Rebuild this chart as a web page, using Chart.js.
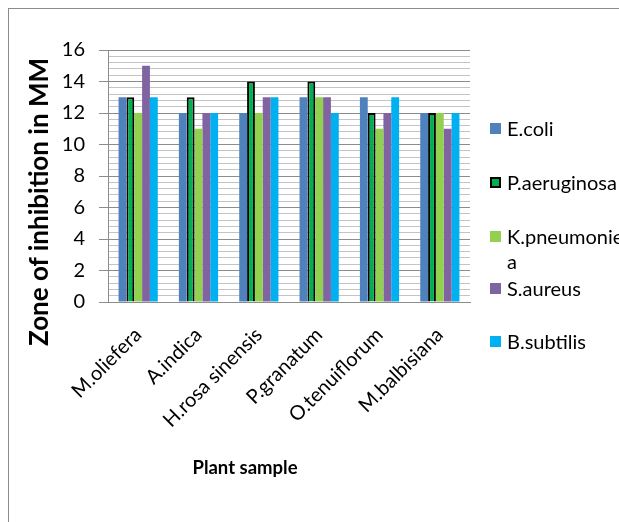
<!DOCTYPE html>
<html>
<head>
<meta charset="utf-8">
<script src="https://cdn.jsdelivr.net/npm/chart.js@4/dist/chart.umd.min.js"></script>
<style>
  body { margin: 0; background: #fff; font-family: Lato, "Open Sans", sans-serif; }
  #wrap { position: relative; width: 619px; height: 522px; overflow: hidden; }
  #frame { position: absolute; left: 8px; top: 8px; width: 700px; height: 600px; border: 1px solid #8c8c8c; }
  #chart { position: absolute; left: 0; top: 0; }
  .ytitle { position: absolute; left: 38px; top: 202px; transform: translate(-50%, -50%) rotate(-90deg);
            font-weight: bold; font-size: 26px; white-space: nowrap; color: #000; }
  .xtitle { position: absolute; left: 245px; top: 467px; transform: translate(-50%, -50%);
            font-weight: bold; font-size: 18.5px; white-space: nowrap; color: #000; }
  #legend { position: absolute; left: 490px; top: 0; }
  .item { position: absolute; left: 0; width: 140px; font-size: 20px; color: #000; line-height: 25px; }
  .item .box { position: absolute; left: 0; top: 7px; width: 11px; height: 11px; box-sizing: border-box; }
  .item .txt { position: absolute; left: 17px; top: 0; width: 121px; word-break: break-all; }
</style>
</head>
<body>
<div id="wrap">
  <div id="frame"></div>
  <canvas id="chart" width="619" height="522"></canvas>
  <div class="ytitle">Zone of inhibition in MM</div>
  <div class="xtitle">Plant sample</div>
  <div id="legend"></div>
</div>
<script>
const plants = ['M.oliefera', 'A.indica', 'H.rosa sinensis', 'P.granatum', 'O.tenuiflorum', 'M.balbisiana'];
const ecoli = [13, 12, 12, 13, 13, 12];
const paeruginosa = [13, 13, 14, 14, 12, 12];
const kpneumoniea = [12, 11, 12, 13, 11, 12];
const saureus = [15, 12, 13, 13, 12, 11];
const bsubtilis = [13, 12, 13, 12, 13, 12];
const yLabels = [0, 2, 4, 6, 8, 10, 12, 14, 16];

const legendTops = [116, 170, 224, 276, 329];

const series = [
    { label: 'E.coli', data: ecoli, color: '#4f81bd', border: 0 },
    { label: 'P.aeruginosa', data: paeruginosa, color: '#00b050', border: 2 },
    { label: 'K.pneumoniea', data: kpneumoniea, color: '#92d050', border: 0 },
    { label: 'S.aureus', data: saureus, color: '#8064a2', border: 0 },
    { label: 'B.subtilis', data: bsubtilis, color: '#00b0f0', border: 0 }
];

function isMajor(v) {
    return yLabels.some(l => Math.abs(l - v) < 1e-6);
}

const ctx = document.getElementById('chart').getContext('2d');
const chart = new Chart(ctx, {
    type: 'bar',
    data: {
        labels: plants,
        datasets: series.map(s => ({
            label: s.label,
            data: s.data,
            backgroundColor: s.color,
            borderColor: '#000',
            borderWidth: s.border,
            categoryPercentage: 0.65,
            barPercentage: 1
        }))
    },
    options: {
        responsive: false,
        animation: false,
        layout: { padding: { top: 50, right: 149, left: 0, bottom: 0 } },
        plugins: { legend: { display: false }, tooltip: { enabled: false } },
        scales: {
            x: {
                grid: { display: false },
                border: { color: '#8c8c8c', width: 1 },
                ticks: {
                    color: '#000',
                    font: { family: 'Lato', size: 20 },
                    maxRotation: 45, minRotation: 45,
                    autoSkip: false, padding: 13
                },
                afterFit: s => { s.height = 220; }
            },
            y: {
                min: 0, max: 16,
                grid: {
                    color: c => isMajor(c.tick.value) ? '#8c8c8c' : '#c4c4c4',
                    tickColor: c => isMajor(c.tick.value) ? '#8c8c8c' : 'rgba(0,0,0,0)',
                    tickLength: 9
                },
                border: { color: '#8c8c8c', width: 1 },
                ticks: {
                    stepSize: 0.4,
                    autoSkip: false,
                    color: '#000',
                    font: { family: 'Lato', size: 20 },
                    padding: 14,
                    callback: v => isMajor(v) ? String(Math.round(v)) : ''
                },
                afterFit: s => { s.width = 108; }
            }
        }
    }
});

// legend built from the datasets
const legend = document.getElementById('legend');
series.forEach((s, i) => {
    const item = document.createElement('div');
    item.className = 'item';
    item.style.top = legendTops[i] + 'px';
    const box = document.createElement('div');
    box.className = 'box';
    box.style.background = s.color;
    if (s.border) box.style.border = s.border + 'px solid #000';
    const txt = document.createElement('div');
    txt.className = 'txt';
    txt.textContent = s.label;
    item.appendChild(box);
    item.appendChild(txt);
    legend.appendChild(item);
});
</script>
</body>
</html>
